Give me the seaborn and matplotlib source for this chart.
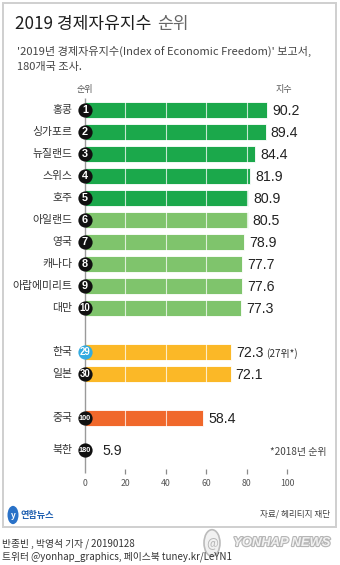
import matplotlib
matplotlib.use("Agg")
import matplotlib.pyplot as plt
import matplotlib.patheffects as pe
from matplotlib.patches import Rectangle, Circle
import seaborn as sns
import pandas as pd

# ---- data -------------------------------------------------------------
countries = ["홍콩", "싱가포르", "뉴질랜드", "스위스", "호주", "아일랜드", "영국",
             "캐나다", "아랍에미리트", "대만", "한국", "일본", "중국", "북한"]
ranks = [1, 2, 3, 4, 5, 6, 7, 8, 9, 10, 29, 30, 100, 180]
scores = [90.2, 89.4, 84.4, 81.9, 80.9, 80.5, 78.9, 77.7, 77.6, 77.3,
          72.3, 72.1, 58.4, 5.9]
groups = ["top5"] * 5 + ["top10"] * 5 + ["kj"] * 2 + ["cn"] + ["nk"]
x_ticks = [0, 20, 40, 60, 80, 100]

palette = {"top5": "#1ba84b", "top10": "#7fc46c", "kj": "#fbb827", "cn": "#f0682b"}
badge_colors = {"한국": "#33abe0"}

# ---- row layout: extra spacing between groups --------------------------
gap_after = {("top5", "top10"): 1.0, ("top10", "kj"): 2.0,
             ("kj", "cn"): 2.0, ("cn", "nk"): 1.45}
pos = [0.0]
for prev, cur in zip(groups[:-1], groups[1:]):
    pos.append(pos[-1] + (gap_after.get((prev, cur), 1.0)))

df = pd.DataFrame({"country": countries, "rank": ranks, "score": scores,
                   "group": groups, "pos": pos})

# ---- figure ----------------------------------------------------------
W, H = 340, 565
sns.set_theme(style="white")
plt.rcParams["font.family"] = ["Noto Sans CJK KR", "DejaVu Sans"]
fig = plt.figure(figsize=(W / 100, H / 100), dpi=100)
fig.patch.set_facecolor("white")

ZERO_PX, PX_PER_UNIT = 85, 2.02
ROW0_PX, ROW_PX = 110, 22
ax = fig.add_axes([0, 0, 1, 1])

bars = df[df["group"] != "nk"]
sns.barplot(data=bars, x="score", y="pos", hue="group", palette=palette,
            orient="h", native_scale=True, width=0.73, dodge=False,
            saturation=1, errorbar=None, legend=False, edgecolor="#ffffff",
            linewidth=0.6, ax=ax)

ax.set_xlim(-ZERO_PX / PX_PER_UNIT, (W - ZERO_PX) / PX_PER_UNIT)
ax.set_ylim((H - ROW0_PX) / ROW_PX, -ROW0_PX / ROW_PX)
ax.axis("off")

# white grid lines across the bars
ax.vlines([20, 40, 60, 80], -0.5, pos[-2] + 0.5, colors="white",
          linewidth=0.8, alpha=0.75, zorder=3)

# rank axis line and x ticks
ax.vlines(0, -0.55, 16.5, colors="#9a9a9a", linewidth=1.0, zorder=1)
ax.vlines(x_ticks[1:], 16.3, 16.55, colors="#8a8a8a", linewidth=0.9)
for t in x_ticks:
    ax.text(t, 17.0, str(t), ha="center", va="center", fontsize=6.3,
            color="#555555")

ax.text(0, -0.95, "순위", ha="center", va="center", fontsize=6.5, color="#555555")
ax.text(98.5, -0.95, "지수", ha="center", va="center", fontsize=6.5, color="#555555")

badge_r = 3.2
for _, r in df.iterrows():
    y = r["pos"]
    ax.text(-6.4, y, r["country"], ha="right", va="center", fontsize=7.8,
            color="#333333")
    ax.scatter(0, y, s=105, color=badge_colors.get(r["country"], "#111111"),
               zorder=5, linewidths=0)
    n = str(r["rank"])
    fs = 7.8 if len(n) == 1 else (6.9 if len(n) == 2 else 5.2)
    ax.text(0, y + 0.02, n, ha="center", va="center", fontsize=fs,
            color="white", fontweight="bold", zorder=6,
            family=["Liberation Sans", "DejaVu Sans"])
    vx = max(r["score"], badge_r) + 2.5
    lab = ax.text(vx, y + 0.05, f"{r['score']:.1f}", ha="left", va="center",
                  fontsize=10.2, color="#222222", zorder=6,
                  family=["Liberation Sans", "DejaVu Sans"])
    if r["country"] == "한국":
        ax.annotate("(27위*)", xy=(1, 0.5), xycoords=lab, xytext=(2, 0),
                    textcoords="offset points", ha="left", va="center",
                    fontsize=7.2, color="#333333")

ax.text(119.5, pos[-1] + 0.1, "*2018년 순위", ha="right", va="center",
        fontsize=7.2, color="#444444")


# ---- titles, frame and credits (pixel positions) -------------------------
def fx(x):
    return x / W


def fy(y):
    return 1 - y / H


fig.patches.append(Rectangle((fx(3), fy(527)), fx(333), 524 / H,
                             transform=fig.transFigure, fill=False,
                             edgecolor="#cfcfcf", linewidth=1.4))

fig.text(fx(15), fy(24), "2019 경제자유지수", ha="left", va="center",
         fontsize=12.3, color="#1e1e1e")
fig.text(fx(157), fy(24), "순위", ha="left", va="center", fontsize=12.3,
         color="#666666", fontweight="light")

fig.text(fx(17), fy(51), "'2019년 경제자유지수(Index of Economic Freedom)' 보고서,",
         ha="left", va="center", fontsize=8.0, color="#444444", style="italic")
fig.text(fx(17), fy(67), "180개국 조사.", ha="left", va="center",
         fontsize=8.0, color="#444444", style="italic")

# Yonhap logo mark and source
fig.patches.append(Circle((fx(13), fy(515)), 5.5 / W, transform=fig.transFigure,
                          facecolor="#2a72c8", edgecolor="none"))
fig.text(fx(13), fy(515), "y", ha="center", va="center", fontsize=6,
         color="white", fontweight="bold", style="italic")
fig.text(fx(21), fy(515), "연합뉴스", ha="left", va="center", fontsize=6.6,
         color="#1f5fb0", fontweight="bold")
fig.text(fx(330), fy(514), "자료/ 헤리티지 재단", ha="right", va="center",
         fontsize=6.2, color="#444444", style="italic")

fig.text(fx(2), fy(544), "반종빈 , 박영석 기자 / 20190128", ha="left",
         va="center", fontsize=7.0, color="#333333")
fig.text(fx(2), fy(557), "트위터 @yonhap_graphics, 페이스북 tuney.kr/LeYN1",
         ha="left", va="center", fontsize=7.0, color="#333333")

wm = fig.text(fx(330), fy(543), "YONHAP NEWS", ha="right", va="center",
              fontsize=9.3, color="#f2f2f2", fontweight="bold", style="italic",
              family=["Liberation Sans", "DejaVu Sans"])
wm.set_path_effects([pe.withStroke(linewidth=1.6, foreground="#b5b5b5")])
fig.patches.append(Circle((fx(212), fy(543)), 8 / W, transform=fig.transFigure,
                          facecolor="#f0f0f0", edgecolor="#b5b5b5",
                          linewidth=1.2, alpha=0.9))
fig.text(fx(212), fy(543), "@", ha="center", va="center", fontsize=9,
         color="#b5b5b5", style="italic")

fig.savefig("out.png", dpi=100, facecolor="white")
